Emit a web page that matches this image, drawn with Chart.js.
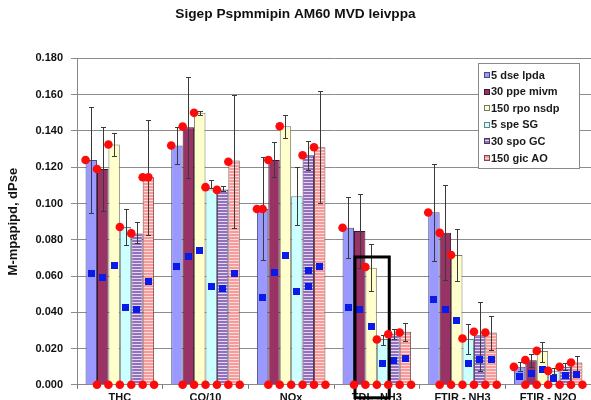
<!DOCTYPE html>
<html><head><meta charset="utf-8">
<script src="https://cdn.jsdelivr.net/npm/chart.js@4.4.0/dist/chart.umd.min.js"></script>
<style>
html,body{margin:0;padding:0;background:#fff;overflow:hidden;width:591px;height:400px}
#wrap{position:relative;width:591px;height:420px}
</style></head>
<body><div id="wrap"><canvas id="c" width="591" height="420"></canvas></div>
<script>
// ---------- data ----------
const categories = ["THC", "CO/10", "NOx", "TDL -NH3", "FTIR - NH3", "FTIR - N2O"];
const seriesLabels = ["5 dse lpda", "30 ppe mivm", "150 rpo nsdp", "5 spe SG", "30 spo GC", "150 gic AO"];
const yTicks = [0, 0.02, 0.04, 0.06, 0.08, 0.10, 0.12, 0.14, 0.16, 0.18];

// bar heights
const s1 = [0.124, 0.132, 0.097, 0.0866, 0.0952, 0.0099];
const s2 = [0.119, 0.142, 0.124, 0.0848, 0.0838, 0.0136];
const s3 = [0.1325, 0.150, 0.1426, 0.0646, 0.0716, 0.0187];
const s4 = [0.087, 0.1077, 0.104, 0.0252, 0.0252, 0.0077];
const s5 = [0.0835, 0.1077, 0.1266, 0.0279, 0.0273, 0.0099];
const s6 = [0.1145, 0.1237, 0.131, 0.0292, 0.0288, 0.0123];

// error bar upper / lower values
const hi1 = [0.153, 0.142, 0.1255, 0.1035, 0.122, 0.0125];
const lo1 = [0.095, 0.1218, 0.0686, 0.070, 0.0683, 0.0075];
const hi2 = [0.142, 0.170, 0.1338, 0.1055, 0.110, 0.0172];
const lo2 = [0.096, 0.1138, 0.1147, 0.0646, 0.0576, 0.010];
const hi3 = [0.139, 0.151, 0.149, 0.0778, 0.0857, 0.0238];
const lo3 = [0.126, 0.149, 0.136, 0.0517, 0.0573, 0.0128];
const hi4 = [0.097, 0.1127, 0.120, 0.0275, 0.0338, 0.0095];
const lo4 = [0.077, 0.1086, 0.088, 0.022, 0.0172, 0.006];
const hi5 = [0.0896, 0.1095, 0.1347, 0.031, 0.0459, 0.012];
const lo5 = [0.078, 0.1068, 0.1187, 0.025, 0.0077, 0.008];
const hi6 = [0.146, 0.160, 0.162, 0.034, 0.038, 0.016];
const lo6 = [0.0826, 0.0866, 0.1004, 0.024, 0.019, 0.0065];

// red circle markers (at the left edge of each bar)
const red1 = [0.124, 0.132, 0.097, 0.0866, 0.095, 0.0099];
const red2 = [0.119, 0.1425, 0.124, null, 0.0838, 0.0137];
const red3 = [0.1325, 0.150, 0.1426, 0.065, 0.0716, 0.0187];
const red4 = [0.087, 0.109, null, 0.025, 0.0255, 0.0077];
const red5 = [0.0835, 0.1075, 0.1266, 0.0279, 0.0293, 0.0099];
const red6 = [0.1145, 0.123, 0.131, 0.0288, 0.0288, 0.0123];
// extra red markers at bar centre
const redMid1 = [null, null, 0.097, null, null, null];
const redMid6 = [0.1145, null, null, null, null, null];
// red markers at the base (right edge of every bar)
const redBase = [0, 0, 0, 0, 0, 0];

// blue square markers (bar centre)
const blue1 = [0.0615, 0.065, 0.048, 0.0426, 0.0468, 0.0044];
const blue2 = [0.059, 0.0705, 0.0617, 0.0417, 0.0413, 0.0064];
const blue3 = [0.0657, 0.074, 0.0712, 0.032, 0.0352, 0.0086];
const blue4 = [0.0428, 0.0543, 0.0517, 0.0117, 0.012, 0.0035];
const blue5 = [0.0415, 0.053, 0.054, 0.0132, 0.0141, 0.0053];
const blue6 = [0.0569, 0.0613, 0.065, 0.0145, 0.0138, 0.0059];
const blueExtra5 = [null, null, 0.063, null, null, null];

// highlight box: category index, from series 2 to series 4, top value
const boxCategory = 3;
const boxSeriesFrom = 1;
const boxSeriesTo = 3;
const boxTop = 0.0705;

// ---------- build ----------
const FONT = "'Liberation Sans', Arial, sans-serif";
const barVals = [s1, s2, s3, s4, s5, s6];
const his = [hi1, hi2, hi3, hi4, hi5, hi6];
const los = [lo1, lo2, lo3, lo4, lo5, lo6];
const reds = [red1, red2, red3, red4, red5, red6];
const redMids = [redMid1, null, null, null, null, redMid6];
const blues = [blue1, blue2, blue3, blue4, blue5, blue6];
const blueExtras = [null, null, null, null, blueExtra5, null];

function stripe(base, light) {
  const c = document.createElement('canvas');
  c.width = 4; c.height = 3;
  const g = c.getContext('2d');
  g.fillStyle = base; g.fillRect(0, 0, 4, 3);
  g.fillStyle = light; g.fillRect(0, 2, 4, 1);
  return document.getElementById('c').getContext('2d').createPattern(c, 'repeat');
}
const fills = ['#9999FF', '#993366', '#FFFFCC', '#CCFFFF',
  stripe('#9270BC', '#E4D8F0'), stripe('#F79A9A', '#FFDCDC')];
const borders = ['#4a4a7a', '#3a1a2a', '#777766', '#6a8080', '#4a3a60', '#7a4a4a'];

const datasets = barVals.map((vals, s) => ({
  label: seriesLabels[s], data: vals,
  backgroundColor: fills[s], borderColor: borders[s], borderWidth: 1,
  errHi: his[s], errLo: los[s],
  redTop: reds[s], redMid: redMids[s], redBase: redBase,
  blue: blues[s], blueExtra: blueExtras[s]
}));

const markers = {
  id: 'markers',
  afterDatasetDraw(chart, args) {
    const ds = chart.data.datasets[args.index];
    const y = chart.scales.y, ctx = chart.ctx;
    ctx.save();
    ctx.strokeStyle = '#3a3a3a'; ctx.lineWidth = 1;
    args.meta.data.forEach((bar, j) => {
      const x = Math.round(bar.x) + 0.5;
      const yh = Math.round(y.getPixelForValue(ds.errHi[j])) + 0.5;
      const yl = Math.round(y.getPixelForValue(ds.errLo[j])) + 0.5;
      ctx.beginPath();
      ctx.moveTo(x, yh); ctx.lineTo(x, yl);
      ctx.moveTo(x - 2.5, yh); ctx.lineTo(x + 2.5, yh);
      ctx.moveTo(x - 2.5, yl); ctx.lineTo(x + 2.5, yl);
      ctx.stroke();
    });
    ctx.restore();
  },
  afterDatasetsDraw(chart) {
    const ctx = chart.ctx, y = chart.scales.y, ca = chart.chartArea;
    const dot = (x, v) => {
      ctx.beginPath(); ctx.arc(x, y.getPixelForValue(v), 4.3, 0, Math.PI * 2); ctx.fill();
    };
    const sq = (x, v) => {
      const py = y.getPixelForValue(v);
      ctx.fillRect(Math.round(x - 3.5), Math.round(py - 3.5), 7, 7);
    };
    ctx.save();
    ctx.fillStyle = '#0A1AE8';
    chart.data.datasets.forEach((ds, s) => {
      chart.getDatasetMeta(s).data.forEach((bar, j) => {
        if (ds.blue[j] != null) sq(bar.x, ds.blue[j]);
        if (ds.blueExtra && ds.blueExtra[j] != null) sq(bar.x, ds.blueExtra[j]);
      });
    });
    const b1 = chart.getDatasetMeta(boxSeriesFrom).data[boxCategory];
    const b2 = chart.getDatasetMeta(boxSeriesTo).data[boxCategory];
    const l = b1.x - b1.width / 2 + 1, r = b2.x + b2.width / 2 + 1;
    const t = y.getPixelForValue(boxTop);
    ctx.strokeStyle = '#000'; ctx.lineWidth = 3;
    ctx.strokeRect(l, t, r - l, ca.bottom + 13 - t);
    ctx.fillStyle = '#FF0A0A';
    chart.data.datasets.forEach((ds, s) => {
      chart.getDatasetMeta(s).data.forEach((bar, j) => {
        const left = bar.x - bar.width / 2, right = bar.x + bar.width / 2;
        if (ds.redTop[j] != null) dot(left, ds.redTop[j]);
        if (ds.redMid && ds.redMid[j] != null) dot(bar.x, ds.redMid[j]);
        dot(right, ds.redBase[j]);
      });
    });
    ctx.restore();
  },
  afterDraw(chart) {
    const ctx = chart.ctx;
    const bx = 478, by = 63, bw = 101, bh = 105;
    ctx.save();
    ctx.fillStyle = '#fff'; ctx.fillRect(bx, by, bw, bh);
    ctx.strokeStyle = '#8a8a8a'; ctx.lineWidth = 1;
    ctx.strokeRect(bx + 0.5, by + 0.5, bw, bh);
    ctx.font = 'bold 11px ' + FONT;
    ctx.textBaseline = 'middle';
    chart.data.datasets.forEach((ds, s) => {
      const cy = by + 12 + s * 16.6;
      ctx.fillStyle = ds.backgroundColor;
      ctx.fillRect(bx + 6, Math.round(cy - 3), 6, 6);
      ctx.strokeStyle = ds.borderColor;
      ctx.strokeRect(bx + 6.5, Math.round(cy - 3) + 0.5, 5, 5);
      ctx.fillStyle = '#1a1a1a';
      ctx.fillText(ds.label, bx + 13, cy + 0.5);
    });
    ctx.restore();
  }
};

new Chart(document.getElementById('c'), {
  type: 'bar',
  data: {labels: categories, datasets},
  plugins: [markers],
  options: {
    responsive: false, animation: false,
    categoryPercentage: 0.8, barPercentage: 1.0,
    layout: {padding: {left: 0, right: 0, top: 0, bottom: 12}},
    plugins: {
      legend: {display: false}, tooltip: {enabled: false},
      title: {display: true, text: 'Sigep Pspmmipin AM60 MVD leivppa', color: '#111',
        font: {family: FONT, size: 13.7, weight: 'bold'}, padding: {top: 6, bottom: 36}}
    },
    scales: {
      x: {type: 'category', offset: true,
        grid: {display: true, drawOnChartArea: false, drawTicks: true, tickLength: 4, color: '#777', offset: true},
        border: {display: true, color: '#888'},
        ticks: {color: '#111', font: {family: FONT, size: 11, weight: 'bold'}, padding: 3, maxRotation: 0, autoSkip: false}
      },
      y: {min: 0, max: 0.18,
        afterBuildTicks: sc => { sc.ticks = yTicks.map(v => ({value: v})); },
        afterFit: sc => { sc.width = 77; },
        grid: {color: '#8c8c8c', lineWidth: 1, tickLength: 6},
        border: {display: true, color: '#888'},
        ticks: {color: '#111', font: {family: FONT, size: 11, weight: 'bold'}, padding: 8,
          callback: v => Number(v).toFixed(3)},
        title: {display: true, text: 'M-mpapipd, dPse', color: '#111',
          font: {family: FONT, size: 13, weight: 'bold'}, padding: {top: 6, bottom: 0}}
      }
    }
  }
});
</script>
</body></html>
